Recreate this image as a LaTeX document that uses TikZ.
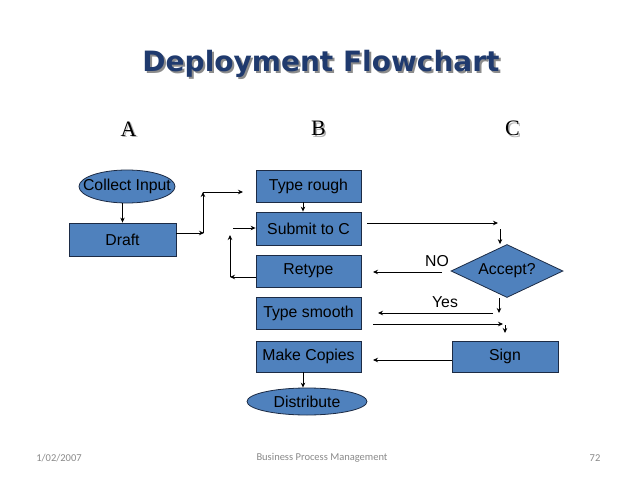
\documentclass[tikz,border=0pt]{standalone}
\usepackage{fontspec}
\setmainfont{Liberation Sans}
\newfontfamily\titlefont{DejaVu Sans}
\newfontfamily\colfont{Liberation Serif}
\newfontfamily\footfont{Carlito}
\usetikzlibrary{shapes.geometric,arrows.meta}
\definecolor{boxblue}{HTML}{4F81BD}
\definecolor{boxline}{HTML}{1C2B45}
\definecolor{titleblue}{HTML}{1F3A6E}
\definecolor{footgray}{HTML}{8A8A8A}
\newcommand{\shadowed}[3]{\makebox[0pt][l]{\hspace*{#2}\raisebox{-#2}{\color{#3}#1}}#1}
\begin{document}
\begin{tikzpicture}[x=1pt,y=-1pt,
  box/.style={rectangle,draw=boxline,fill=boxblue,line width=0.8pt,minimum width=105pt,minimum height=32pt,inner sep=0pt,font=\fontsize{15.8}{18}\selectfont},
  oval/.style={ellipse,draw=boxline,fill=boxblue,line width=0.8pt,inner sep=0pt},
  ovtext/.style={font=\fontsize{15.8}{18}\selectfont},
  arr/.style={-{Stealth[length=5pt,width=4.5pt]},line width=0.8pt},
  lbl/.style={font=\fontsize{15.8}{18}\selectfont},
  colhead/.style={font=\colfont\fontsize{22}{26}\selectfont},
  foot/.style={font=\footfont\fontsize{10.5}{12}\selectfont,text=footgray},
  ttl/.style={font=\titlefont\bfseries\fontsize{28}{32}\selectfont}]
\useasboundingbox[fill=white] (0,0) rectangle (638,479);

% title
\node[ttl,text=titleblue] (title) at (321,64.5) {\shadowed{Deployment Flowchart}{2pt}{black!45}};

% column heads
\node[colhead] (A) at (128.5,129.5) {\shadowed{A}{1.5pt}{black!30}};
\node[colhead] (B) at (318.5,129.5) {\shadowed{B}{1.5pt}{black!30}};
\node[colhead] (C) at (512.5,129.5) {\shadowed{C}{1.5pt}{black!30}};

% nodes
\node[oval,minimum width=96pt,minimum height=33pt,label={[ovtext]center:Collect Input}] (collect) at (127,186.5) {};
\node[box,minimum width=107pt,minimum height=33pt] (draft) at (122.5,239.5) {Draft};
\node[box] (rough) at (308.5,186) {Type rough};
\node[box,minimum height=33pt] (submit) at (308.5,228.5) {Submit to C};
\node[box] (retype) at (308.5,271) {Retype};
\node[box] (smooth) at (308.5,313) {Type smooth};
\node[box,minimum height=31pt] (copies) at (308.5,356.5) {Make Copies};
\node[oval,minimum width=120pt,minimum height=27pt,label={[ovtext]center:Distribute}] (distribute) at (307,401.5) {};
\node[diamond,draw=boxline,fill=boxblue,line width=0.8pt,minimum width=112pt,minimum height=53pt,inner sep=0pt,aspect=2.1,font=\fontsize{15.8}{18}\selectfont] (accept) at (507,271) {Accept?};
\node[box,minimum width=106pt,minimum height=31pt] (sign) at (505,356.5) {Sign};

% labels
\node[lbl] (nolbl) at (437,261) {NO};
\node[lbl] (yeslbl) at (445,302) {Yes};

% connectors
\draw[arr] (draft.north |- collect.south) -- (draft.north);

\coordinate (p1) at (204,233);
\coordinate (p1b) at (203,233);
\coordinate (p2) at (203,192);
\coordinate (p3) at (243,192);
\draw[arr] (draft.east |- p1) -- (p1);
\draw[arr] (p1b) -- (p2);
\draw[arr] (p2) -- (p3);

\coordinate (p4) at (303,0);
\draw[arr] (rough.south -| p4) -- (submit.north -| p4);

\coordinate (p5) at (233,228);
\draw[arr] (p5) -- (submit.west |- p5);

\coordinate (p6) at (230,277);
\coordinate (p7) at (230,235);
\draw[arr] (retype.west |- p6) -- (p6);
\draw[arr] (p6) -- (p7);

\coordinate (p8s) at (367,223);
\coordinate (p8) at (498,223);
\draw[arr] (p8s) -- (p8);
\coordinate (p9) at (500,229);
\draw[arr] (p9) -- (accept.north -| p9);

\coordinate (p10) at (442,272);
\coordinate (p11) at (373,272);
\draw[arr] (p10) -- (p11);

\coordinate (p12) at (499,313);
\draw[arr] (accept.south -| p12) -- (p12);
\coordinate (p13) at (493,313);
\coordinate (p14) at (378,313);
\draw[arr] (p13) -- (p14);

\coordinate (p15) at (373,324);
\coordinate (p16) at (503,324);
\draw[arr] (p15) -- (p16);
\coordinate (p17) at (505,325);
\coordinate (p18) at (505,333);
\draw[arr] (p17) -- (p18);

\coordinate (p19) at (373,360);
\draw[arr] (sign.west |- p19) -- (p19);

\coordinate (p20) at (303,0);
\draw[arr] (copies.south -| p20) -- (distribute.north -| p20);

% footer
\node[foot] (date) at (59,458) {1/02/2007};
\node[foot] (bpm) at (322,458) {Business Process Management};
\node[foot] (page) at (595,458) {72};
\end{tikzpicture}
\end{document}
